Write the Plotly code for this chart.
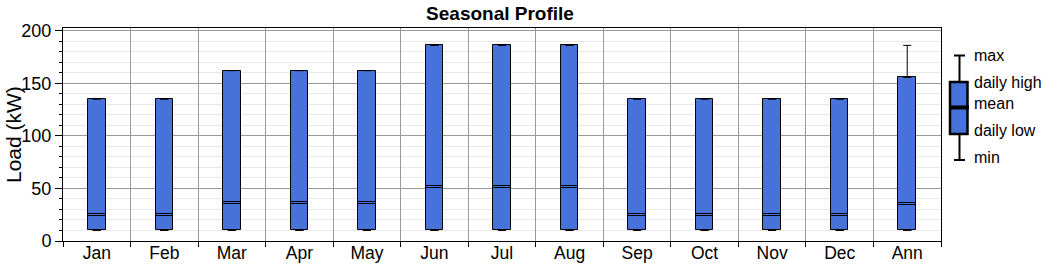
import plotly.graph_objects as go

# ---- data ----
categories = ["Jan", "Feb", "Mar", "Apr", "May", "Jun", "Jul", "Aug",
              "Sep", "Oct", "Nov", "Dec", "Ann"]
min_load   = [10, 10, 10, 10, 10, 10, 10, 10, 10, 10, 10, 10, 10]
daily_low  = [10, 10, 10, 10, 10, 10, 10, 10, 10, 10, 10, 10, 10]
mean_load  = [24.5, 24.5, 36.5, 36.5, 36.5, 51, 51, 51, 24.5, 24.5, 24.5, 24.5, 35]
daily_high = [135, 135, 162, 162, 162, 186, 186, 186, 135, 135, 135, 135, 155.5]
max_load   = [135, 135, 162, 162, 162, 186, 186, 186, 135, 135, 135, 135, 186]
y_ticks = [0, 50, 100, 150, 200]
legend_labels = ["max", "daily high", "mean", "daily low", "min"]

# ---- style ----
W, H = 1046, 272
L, R, T, B = 63, 941, 28, 241
BLUE = "#4672DA"
FONT = "Liberation Sans, Arial, sans-serif"
BOX_W = 0.26
MEAN_BAND = 1.9  # thickness of the mean marker (data units)

def px(x):
    return (x - L) / (R - L)

def py(y):
    return (B - y) / (B - T)

fig = go.Figure()

# boxes: daily low -> daily high
fig.add_bar(x=categories, y=[h - l for h, l in zip(daily_high, daily_low)],
            base=daily_low, width=BOX_W,
            marker=dict(color=BLUE, line=dict(color="black", width=1)),
            showlegend=False, hoverinfo="skip")

# mean marker (double line)
fig.add_bar(x=categories, y=[MEAN_BAND] * len(mean_load),
            base=[m - MEAN_BAND / 2 for m in mean_load], width=BOX_W,
            marker=dict(color=BLUE, line=dict(color="black", width=1)),
            showlegend=False, hoverinfo="skip")

# whiskers up to max
fig.add_scatter(x=categories, y=daily_high, mode="markers",
                marker=dict(size=1, opacity=0),
                error_y=dict(type="data", symmetric=False,
                             array=[mx - h for mx, h in zip(max_load, daily_high)],
                             arrayminus=[0] * len(categories),
                             color="black", thickness=1, width=4),
                showlegend=False, hoverinfo="skip")
# whiskers down to min
fig.add_scatter(x=categories, y=daily_low, mode="markers",
                marker=dict(size=1, opacity=0),
                error_y=dict(type="data", symmetric=False,
                             array=[0] * len(categories),
                             arrayminus=[l - mn for l, mn in zip(daily_low, min_load)],
                             color="black", thickness=1, width=4),
                showlegend=False, hoverinfo="skip")

# ---- custom legend (drawn in pixel positions) ----
shapes = []
def line(x0, y0, x1, y1, w):
    shapes.append(dict(type="line", xref="paper", yref="paper",
                       x0=px(x0), y0=py(y0), x1=px(x1), y1=py(y1),
                       line=dict(color="black", width=w), layer="above"))
line(959.5, 55.5, 959.5, 82, 2)
line(959.5, 134, 959.5, 160, 2)
line(954, 55.5, 965, 55.5, 2)
line(954, 160, 965, 160, 2)
shapes.append(dict(type="rect", xref="paper", yref="paper",
                   x0=px(950), y0=py(134), x1=px(967.5), y1=py(82),
                   fillcolor=BLUE, line=dict(color="black", width=2.5), layer="above"))
line(949, 107.5, 969, 107.5, 4)

annotations = []
for lab, yy in zip(legend_labels, [55, 82, 103, 130, 158]):
    annotations.append(dict(text=lab, xref="paper", yref="paper",
                            x=px(972), y=py(yy), xanchor="left", yanchor="middle",
                            showarrow=False, font=dict(family=FONT, size=16, color="black")))
# y-axis title
annotations.append(dict(text="Load (kW)", xref="paper", yref="paper",
                        x=px(13), y=py(135), xanchor="center", yanchor="middle",
                        textangle=-90, showarrow=False,
                        font=dict(family=FONT, size=21, color="black")))

fig.update_layout(
    width=W, height=H,
    margin=dict(l=L, r=W - R, t=T, b=H - B, pad=0, autoexpand=False),
    paper_bgcolor="white", plot_bgcolor="white",
    barmode="overlay", bargap=0,
    title=dict(text="<b>Seasonal Profile</b>", x=px((L + R) / 2 - 2), xref="paper",
               xanchor="center", y=1 - 13.5 / H, yref="container", yanchor="middle",
               font=dict(family=FONT, size=19, color="black")),
    shapes=shapes, annotations=annotations,
    font=dict(family=FONT, color="black"),
)

fig.update_xaxes(type="category", categoryorder="array", categoryarray=categories,
                 range=[-0.5, len(categories) - 0.5], automargin=False,
                 tickson="boundaries", ticks="outside", ticklen=5, tickcolor="black",
                 ticklabelstandoff=-4,
                 showgrid=True, gridcolor="#9a9a9a", gridwidth=1,
                 showline=True, linecolor="black", linewidth=1, mirror=True,
                 tickfont=dict(family=FONT, size=17.5, color="black"))

fig.update_yaxes(range=[0, 202.5], tickmode="array", tickvals=y_ticks, automargin=False,
                 ticks="outside", ticklen=7, tickcolor="black",
                 showgrid=True, gridcolor="#9a9a9a", gridwidth=1, zeroline=False,
                 showline=True, linecolor="black", linewidth=1, mirror=True,
                 minor=dict(dtick=10, tick0=0, showgrid=True, gridcolor="#e8e8e8",
                            ticks="outside", ticklen=3, tickcolor="black"),
                 tickfont=dict(family=FONT, size=18, color="black"))

fig.write_html("out.html", config={"displayModeBar": False},
               post_script="document.body.style.margin='0';document.body.style.padding='0';")
